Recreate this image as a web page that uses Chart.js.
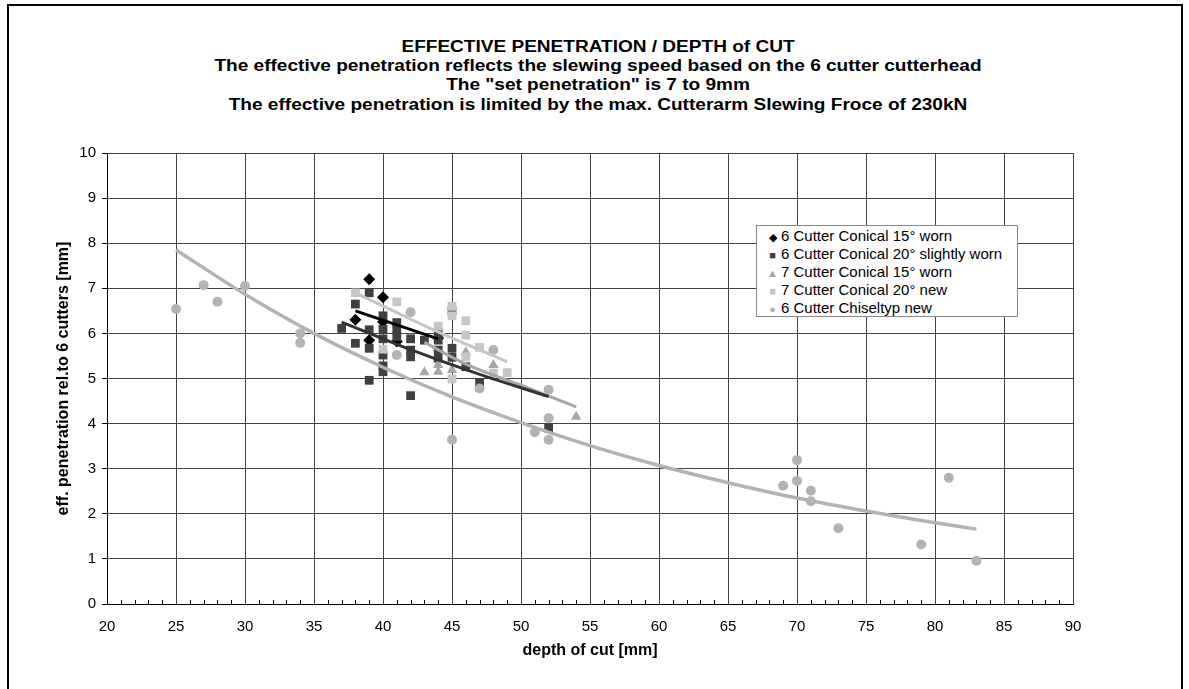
<!DOCTYPE html>
<html>
<head>
<meta charset="utf-8">
<script src="https://cdn.jsdelivr.net/npm/chart.js@4.4.0/dist/chart.umd.min.js"></script>
<style>
    body { margin: 0; background: #fff; font-family: "Liberation Sans", Arial, sans-serif; }
    #frame { position: absolute; left: 7px; top: 4px; width: 1172px; height: 720px; border: 2px solid #000; }
    .title { position: absolute; left: 0; width: 1196px; text-align: center; font-weight: bold; font-size: 16px; line-height: 20px; color: #000; transform: scaleX(1.19); transform-origin: 598px 0; }
    #chart-canvas { position: absolute; left: 0; top: 0; }
    #legend { position: absolute; left: 756px; top: 225px; width: 262px; height: 92px; border: 1px solid #888; background: #fff; font-size: 15px; padding-top: 1px; box-sizing: border-box; }
    #legend div { height: 18px; line-height: 18px; padding-left: 7px; white-space: nowrap; }
    #legend span.mk { display: inline-block; width: 17px; text-align: center; font-size: 11px; }
</style>
</head>
<body>
<div id="frame"></div>
<div class="title" style="top:37px">EFFECTIVE PENETRATION / DEPTH of CUT</div>
<div class="title" style="top:56px">The effective penetration reflects the slewing speed based on the 6 cutter cutterhead</div>
<div class="title" style="top:75px">The "set penetration" is 7 to 9mm</div>
<div class="title" style="top:95px">The effective penetration is limited by the max. Cutterarm Slewing Froce of 230kN</div>
<canvas id="chart-canvas" width="1189" height="689"></canvas>
<div id="legend"></div>
<script>
// Series: depth of cut [mm] -> eff. penetration [mm]
const conical15WornX = [38, 39, 39, 40, 40, 41, 44];
const conical15WornY = [6.30, 7.20, 5.85, 6.80, 6.26, 5.82, 5.90];

const conical20SlightX = [37, 38, 38, 39, 39, 39, 39, 40, 40, 40, 40, 40, 40, 41, 41, 41, 42, 42, 42, 42, 43, 44, 44, 44, 44, 45, 45, 45, 46, 47, 52];
const conical20SlightY = [6.11, 6.65, 5.78, 6.90, 6.08, 5.67, 4.96, 6.39, 6.09, 5.88, 5.52, 5.28, 5.15, 6.24, 6.08, 5.93, 5.88, 5.63, 5.48, 4.62, 5.85, 6.02, 5.85, 5.63, 5.45, 6.50, 5.67, 5.47, 5.26, 4.91, 3.90];

const conical7_15WornX = [43, 44, 44, 45, 46, 48, 54];
const conical7_15WornY = [5.14, 5.30, 5.15, 5.19, 5.58, 5.30, 4.15];

const conical7_20NewX = [38, 40, 41, 44, 45, 45, 45, 46, 46, 46, 47, 48, 49];
const conical7_20NewY = [6.90, 5.65, 6.70, 6.16, 6.60, 6.39, 4.99, 6.28, 5.96, 5.48, 5.69, 5.12, 5.13];

const chiselNewX = [25, 27, 28, 30, 34, 34, 41, 42, 45, 47, 48, 51, 52, 52, 52, 69, 70, 70, 71, 71, 73, 79, 81, 83];
const chiselNewY = [6.54, 7.07, 6.70, 7.05, 6.00, 5.79, 5.52, 6.47, 3.64, 4.78, 5.63, 3.81, 4.75, 4.12, 3.64, 2.62, 3.19, 2.73, 2.51, 2.28, 1.68, 1.32, 2.80, 0.96];

// trend lines, read at a few positions along each curve
const trend15WornX = [38, 44];
const trend15WornY = [6.50, 5.88];
const trend20SlightX = [37, 42, 47, 52];
const trend20SlightY = [6.25, 5.64, 5.09, 4.60];
const trend7_15X = [43, 46, 50, 54];
const trend7_15Y = [5.80, 5.32, 4.85, 4.37];
const trend7_20X = [38, 43.5, 49];
const trend7_20Y = [6.90, 6.10, 5.37];
const trendChiselX = [25, 30, 35, 40, 45, 50, 55, 60, 65, 70, 75, 80, 83];
const trendChiselY = [7.85, 6.87, 6.00, 5.25, 4.59, 4.02, 3.51, 3.07, 2.69, 2.35, 2.06, 1.80, 1.66];

const xTicks = [20, 25, 30, 35, 40, 45, 50, 55, 60, 65, 70, 75, 80, 85, 90];

function pts(xs, ys) {
    return xs.map((x, i) => ({ x: x, y: ys[i] }));
}

const series = [
    { label: '6 Cutter Conical 15\u00b0 worn', x: conical15WornX, y: conical15WornY, color: '#000000', style: 'rectRot', radius: 6, glyph: '\u25c6', order: 9 },
    { label: '6 Cutter Conical 20\u00b0 slightly worn', x: conical20SlightX, y: conical20SlightY, color: '#404040', style: 'rect', radius: 6.2, glyph: '\u25a0', order: 8 },
    { label: '7 Cutter Conical 15\u00b0 worn', x: conical7_15WornX, y: conical7_15WornY, color: '#a6a6a6', style: 'triangle', radius: 6, glyph: '\u25b2', order: 7 },
    { label: '7 Cutter Conical 20\u00b0 new', x: conical7_20NewX, y: conical7_20NewY, color: '#c6c6c6', style: 'rect', radius: 6.2, glyph: '\u25a0', order: 6 },
    { label: '6 Cutter Chiseltyp new', x: chiselNewX, y: chiselNewY, color: '#b3b3b3', style: 'circle', radius: 5, glyph: '\u25cf', order: 5 }
];

const trends = [
    { x: trend15WornX, y: trend15WornY, color: '#000000', width: 3 },
    { x: trend20SlightX, y: trend20SlightY, color: '#333333', width: 3 },
    { x: trend7_15X, y: trend7_15Y, color: '#a6a6a6', width: 3 },
    { x: trend7_20X, y: trend7_20Y, color: '#c6c6c6', width: 3 },
    { x: trendChiselX, y: trendChiselY, color: '#b3b3b3', width: 3.5 }
];

const datasets = [];
series.forEach(s => {
    datasets.push({
        label: s.label,
        data: pts(s.x, s.y),
        pointStyle: s.style,
        pointRadius: s.radius,
        backgroundColor: s.color,
        borderColor: s.color,
        borderWidth: 0,
        order: s.order
    });
});
trends.forEach((t, i) => {
    datasets.push({
        label: 'trend ' + i,
        data: pts(t.x, t.y),
        showLine: true,
        pointRadius: 0,
        borderColor: t.color,
        borderWidth: t.width,
        cubicInterpolationMode: 'monotone',
        fill: false,
        order: i
    });
});

// small minor tick marks every 1 mm, inside the plot on the x axis
const minorTicks = {
    id: 'minorTicks',
    afterDraw(chart) {
        const c = chart.ctx;
        const xs = chart.scales.x;
        const bottom = chart.chartArea.bottom;
        c.save();
        c.strokeStyle = '#000';
        c.lineWidth = 1;
        c.beginPath();
        for (let v = xs.min; v <= xs.max; v++) {
            if (v % 5 === 0) continue;
            const px = Math.round(xs.getPixelForValue(v)) + 0.5;
            c.moveTo(px, bottom);
            c.lineTo(px, bottom - 4);
        }
        c.stroke();
        c.restore();
    }
};

const chart = new Chart(document.getElementById('chart-canvas'), {
    type: 'scatter',
    data: { datasets: datasets },
    options: {
        responsive: false,
        animation: false,
        layout: { padding: { left: 50, right: 116, top: 153, bottom: 25 } },
        plugins: {
            legend: { display: false },
            tooltip: { enabled: false },
            title: { display: false }
        },
        scales: {
            x: {
                type: 'linear',
                min: 20,
                max: 90,
                afterBuildTicks: axis => { axis.ticks = xTicks.map(v => ({ value: v })); },
                ticks: { color: '#000', font: { size: 15, family: 'Liberation Sans' }, maxRotation: 0, autoSkip: false, padding: 14 },
                grid: { color: '#444', drawTicks: false },
                border: { color: '#000', width: 1 },
                title: { display: true, text: 'depth of cut [mm]', color: '#000', font: { size: 16, weight: 'bold', family: 'Liberation Sans' } },
                afterFit: axis => { axis.height = 60; }
            },
            y: {
                min: 0,
                max: 10,
                ticks: { stepSize: 1, color: '#000', font: { size: 15, family: 'Liberation Sans' }, padding: 6 },
                grid: { color: '#444', tickLength: 5, tickColor: '#000' },
                border: { color: '#000', width: 1 },
                title: { display: true, text: 'eff. penetration rel.to 6 cutters [mm]', color: '#000', font: { size: 16, weight: 'bold', family: 'Liberation Sans' } },
                afterFit: axis => { axis.width = 57; }
            }
        }
    },
    plugins: [minorTicks]
});

// legend box inside the plot
const legendBox = document.getElementById('legend');
series.forEach(s => {
    const row = document.createElement('div');
    row.innerHTML = `<span class="mk" style="color:${s.color}">${s.glyph}</span>${s.label}`;
    legendBox.appendChild(row);
});
</script>
</body>
</html>
